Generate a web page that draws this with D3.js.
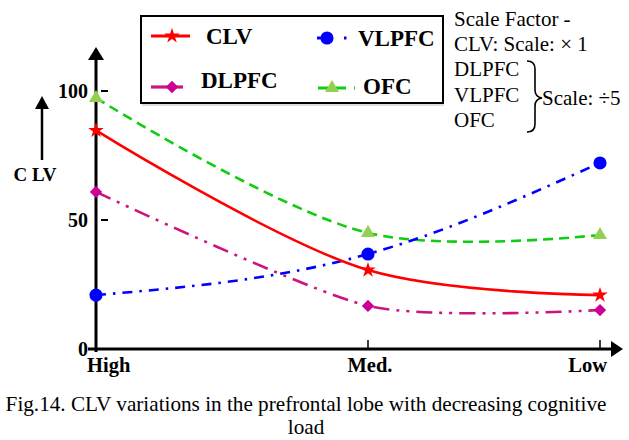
<!DOCTYPE html>
<html><head><meta charset="utf-8">
<script src="https://cdn.jsdelivr.net/npm/d3@7"></script>
<style>body{margin:0;background:#fff}svg{display:block}</style>
</head><body>
<svg id="c" width="629" height="440"></svg>
<script>
const categories = ["High", "Med.", "Low"];
const clv   = [84.7, 30.6, 20.9];
const vlpfc = [20.9, 36.8, 72.1];
const dlpfc = [60.9, 16.7, 15.1];
const ofc   = [97.3, 45.0, 44.2];
const yTicks = [0, 50, 100];
const scaleNotes = ["Scale Factor -", "CLV: Scale: \u00d7 1", "DLPFC", "VLPFC", "OFC"];
const scaleDiv = "Scale: \u00f75";
const caption = ["Fig.14. CLV variations in the prefrontal lobe with decreasing cognitive", "load"];

const svg = d3.select("#c");
const serif = "'Liberation Serif','Times New Roman',serif";
const x = d3.scaleOrdinal().domain(categories).range([96, 368, 600]);
const y = d3.scaleLinear().domain([0, 100]).range([349, 91]);

const series = [
  {name:"CLV", vals:clv, color:"#ff0000", dash:null, sym:"star", fill:"#ff0000", curve:d3.curveCatmullRom.alpha(0.5)},
  {name:"VLPFC", vals:vlpfc, color:"#0000ff", dash:"10,7,2.5,7", sym:"circle", fill:"#0000ff", curve:d3.curveMonotoneX},
  {name:"DLPFC", vals:dlpfc, color:"#cc1480", dash:"16,7,3,7,3,7", sym:"diamond", fill:"#cc0099", curve:d3.curveCardinal.tension(0.3)},
  {name:"OFC", vals:ofc, color:"#11cc11", dash:"10,6", sym:"triangle", fill:"#92d050", curve:d3.curveCatmullRom.alpha(0.5)}
];
function symPath(s){
  if(s==="star") return d3.symbol(d3.symbolStar, 75)();
  if(s==="circle") return d3.symbol(d3.symbolCircle, 135)();
  if(s==="diamond") return d3.symbol(d3.symbolSquare, 76)();
  return d3.symbol(d3.symbolTriangle, 85)();
}
function symRot(s){ return s==="diamond" ? " rotate(45)" : ""; }

// axes
const ax = svg.append("g").attr("stroke","#000").attr("stroke-width",3);
ax.append("line").attr("x1",x("High")).attr("x2",x("High")).attr("y1",y(0)+3).attr("y2",58);
ax.append("line").attr("x1",88).attr("x2",613).attr("y1",y(0)).attr("y2",y(0));
svg.append("path").attr("d",`M${x("High")},47 L${x("High")-8},60 L${x("High")+8},60 Z`).attr("fill","#000");
svg.append("path").attr("d",`M623,${y(0)} L611,${y(0)-8} L611,${y(0)+8} Z`).attr("fill","#000");
categories.slice(1).forEach(c=>{
  svg.append("line").attr("x1",x(c)).attr("x2",x(c)).attr("y1",y(0)).attr("y2",y(0)-9).attr("stroke","#000").attr("stroke-width",1.5);
});
const anchors = ["start","middle","end"], offs=[-9,2,7];
svg.selectAll(".xl").data(categories).enter().append("text")
  .attr("x",(d,i)=>x(d)+offs[i]).attr("y",372).attr("text-anchor",(d,i)=>anchors[i])
  .attr("font-family",serif).attr("font-weight","bold").attr("font-size",20.5).text(d=>d);
yTicks.forEach(t=>{
  if(t>0) svg.append("line").attr("x1",101).attr("x2",108).attr("y1",y(t)).attr("y2",y(t)).attr("stroke","#000").attr("stroke-width",2);
  svg.append("text").attr("x",88).attr("y",y(t)+7).attr("text-anchor","end")
    .attr("font-family",serif).attr("font-weight","bold").attr("font-size",20).text(t);
});
// y label
svg.append("line").attr("x1",42).attr("x2",42).attr("y1",160).attr("y2",106).attr("stroke","#000").attr("stroke-width",2.5);
svg.append("path").attr("d","M42,96 L35,109 L49,109 Z").attr("fill","#000");
svg.append("text").attr("x",35).attr("y",181).attr("text-anchor","middle")
  .attr("font-family",serif).attr("font-weight","bold").attr("font-size",19).text("C LV");

// lines
const drawOrder = [series[3], series[2], series[1], series[0]];
drawOrder.forEach(s=>{
  const line = d3.line().x((d,i)=>x(categories[i])).y(d=>y(d)).curve(s.curve);
  svg.append("path").attr("d",line(s.vals)).attr("fill","none").attr("stroke",s.color)
    .attr("stroke-width",2.6).attr("stroke-dasharray",s.dash);
});
drawOrder.forEach(s=>{
  svg.selectAll(null).data(s.vals).enter().append("path")
    .attr("d",symPath(s.sym)).attr("fill",s.fill)
    .attr("transform",(d,i)=>`translate(${x(categories[i])},${y(d)})${symRot(s.sym)}`);
});

// legend
const lg = svg.append("g");
lg.append("rect").attr("x",141).attr("y",16).attr("width",302).attr("height",87).attr("fill","none").attr("stroke","#000").attr("stroke-width",2);
lg.append("line").attr("x1",142).attr("x2",444).attr("y1",105).attr("y2",105).attr("stroke","#bbb").attr("stroke-width",1);
const legPos = {
  CLV:{x1:151,x2:190,y:36,mx:172,tx:206,ty:44},
  VLPFC:{x1:317,x2:348,y:38,mx:327,tx:358,ty:46},
  DLPFC:{x1:151,x2:183,y:87,mx:172,tx:201,ty:88},
  OFC:{x1:318,x2:355,y:88,mx:332,tx:363,ty:94}
};
series.forEach(s=>{
  const p = legPos[s.name];
  let dash = null;
  if(s.name==="VLPFC") dash="16,11,2.5,20";
  if(s.name==="OFC") dash="10,8";
  lg.append("line").attr("x1",p.x1).attr("x2",p.x2).attr("y1",p.y).attr("y2",p.y)
    .attr("stroke",s.color).attr("stroke-width",3.2).attr("stroke-dasharray",dash);
  lg.append("path").attr("d",symPath(s.sym)).attr("fill",s.fill)
    .attr("transform",`translate(${p.mx},${p.y})${symRot(s.sym)}`);
  lg.append("text").attr("x",p.tx).attr("y",p.ty).attr("font-family",serif).attr("font-weight","bold")
    .attr("font-size",23).text(s.name);
});

// scale notes
scaleNotes.forEach((t,i)=>{
  svg.append("text").attr("x",454).attr("y",26+i*25.2).attr("font-family",serif).attr("font-size",21).text(t);
});
svg.append("path").attr("d","M527,61 Q535,61 535,69 L535,90 Q535,97 542,98 Q535,99 535,106 L535,124 Q535,132 527,132")
  .attr("fill","none").attr("stroke","#000").attr("stroke-width",1.6);
svg.append("text").attr("x",542).attr("y",105).attr("font-family",serif).attr("font-size",21).text(scaleDiv);

// caption
caption.forEach((t,i)=>{
  svg.append("text").attr("x",306).attr("y",411+i*23).attr("text-anchor","middle")
    .attr("font-family",serif).attr("font-size",21.2).text(t);
});
</script>
</body></html>
